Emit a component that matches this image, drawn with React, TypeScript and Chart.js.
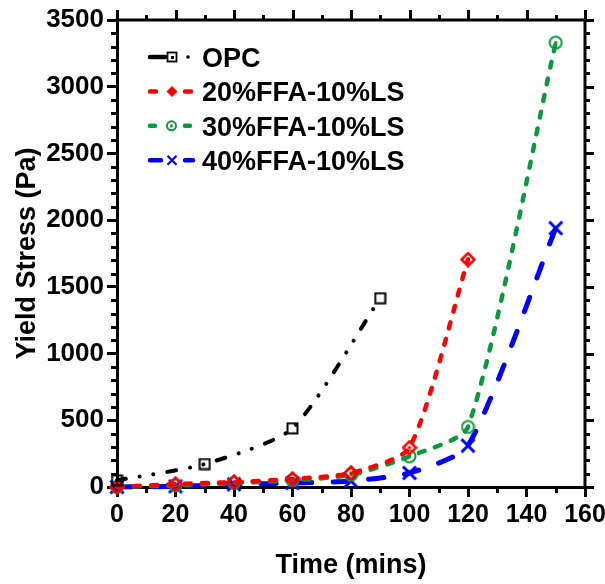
import React, { useEffect, useRef } from "react";
import { Chart, registerables } from "chart.js";

Chart.register(...registerables);

// ---- data ----
const OPC_TIME = [0, 30, 60, 90];
const OPC_STRESS = [50, 172, 440, 1415];
const FFA20_TIME = [0, 20, 40, 60, 80, 100, 120];
const FFA20_STRESS = [0, 22, 37, 60, 105, 295, 1705];
const FFA_TIME = [0, 20, 40, 60, 80, 100, 120, 150];
const FFA30_STRESS = [0, 12, 30, 50, 90, 230, 450, 3330];
const FFA40_STRESS = [0, 5, 20, 30, 45, 105, 310, 1940];
const SERIES_LABELS = ["OPC", "20%FFA-10%LS", "30%FFA-10%LS", "40%FFA-10%LS"];
const X_TICKS = [0, 20, 40, 60, 80, 100, 120, 140, 160];
const Y_TICKS = [0, 500, 1000, 1500, 2000, 2500, 3000, 3500];
const X_MINOR_STEP = 10;
const Y_MINOR_STEP = 100;
const X_TITLE = "Time (mins)";
const Y_TITLE = "Yield Stress (Pa)";

const FONT = "'Liberation Sans', Arial, Helvetica, sans-serif";
const BLACK = "#000000";
const RED = "#ff0000";
const GREEN = "#0a9a3c";
const BLUE = "#0000ff";

function pts(xs: number[], ys: number[]) {
  return xs.map((x, i) => ({ x, y: ys[i] }));
}

function makeMarker(kind: string, color: string, size: number): HTMLCanvasElement {
  const c = document.createElement("canvas");
  c.width = size;
  c.height = size;
  const g = c.getContext("2d")!;
  const m = size / 2;
  g.strokeStyle = color;
  g.fillStyle = color;
  if (kind === "square") {
    g.lineWidth = 2;
    const h = m - 1.5;
    g.strokeRect(m - h, m - h, 2 * h, 2 * h);
  } else if (kind === "diamond") {
    g.lineWidth = 2.5;
    const h = m - 1.5;
    g.beginPath();
    g.moveTo(m, m - h);
    g.lineTo(m + h, m);
    g.lineTo(m, m + h);
    g.lineTo(m - h, m);
    g.closePath();
    g.stroke();
    g.beginPath();
    g.arc(m, m, 1.8, 0, Math.PI * 2);
    g.fill();
  } else if (kind === "circle") {
    g.lineWidth = 2;
    g.beginPath();
    g.arc(m, m, m - 1.5, 0, Math.PI * 2);
    g.stroke();
    g.beginPath();
    g.arc(m, m, 1.8, 0, Math.PI * 2);
    g.fill();
  } else if (kind === "cross") {
    g.lineWidth = 3;
    const h = m - 1.5;
    g.beginPath();
    g.moveTo(m - h, m - h);
    g.lineTo(m + h, m + h);
    g.moveTo(m + h, m - h);
    g.lineTo(m - h, m + h);
    g.stroke();
  }
  return c;
}

const framePlugin = {
  id: "frameTicks",
  afterDraw(chart: any) {
    const { ctx, chartArea: a, scales } = chart;
    const x = scales.x;
    const y = scales.y;
    ctx.save();
    ctx.strokeStyle = BLACK;
    ctx.lineCap = "butt";
    ctx.lineWidth = 3;
    ctx.beginPath();
    ctx.moveTo(a.left - 1.5, a.top);
    ctx.lineTo(a.right + 1.5, a.top);
    ctx.moveTo(a.right, a.top - 1.5);
    ctx.lineTo(a.right, a.bottom + 1.5);
    ctx.stroke();
    ctx.lineWidth = 3;
    ctx.beginPath();
    for (let v = x.min; v <= x.max + 1e-6; v += X_MINOR_STEP) {
      const px = Math.round(x.getPixelForValue(v)) + 0.5;
      const major = X_TICKS.includes(v);
      if (!major) {
        ctx.moveTo(px, a.bottom);
        ctx.lineTo(px, a.bottom + 6);
      }
      ctx.moveTo(px, a.top);
      ctx.lineTo(px, a.top - (major ? 10 : 5));
    }
    for (let v = y.min; v <= y.max + 1e-6; v += Y_MINOR_STEP) {
      const py = Math.round(y.getPixelForValue(v)) + 0.5;
      const major = Y_TICKS.includes(v);
      if (!major) {
        ctx.moveTo(a.left, py);
        ctx.lineTo(a.left - 6, py);
      }
      ctx.moveTo(a.right, py);
      ctx.lineTo(a.right + (major ? 9 : 5), py);
    }
    ctx.stroke();
    ctx.restore();
  },
};

const legendPlugin = {
  id: "insideLegend",
  afterDraw(chart: any) {
    const { ctx } = chart;
    ctx.save();
    const x0 = 148;
    const xm = 172;
    const x1 = 195;
    const textX = 202;
    const baseY = 67;
    const step = 34.4;
    ctx.font = `bold 27px ${FONT}`;
    ctx.textBaseline = "alphabetic";
    ctx.textAlign = "left";
    SERIES_LABELS.forEach((label, i) => {
      const base = baseY + i * step;
      const cy = base - 10;
      ctx.lineCap = "round";
      if (i === 0) {
        ctx.strokeStyle = BLACK;
        ctx.fillStyle = BLACK;
        ctx.lineWidth = 4.5;
        ctx.beginPath();
        ctx.moveTo(x0 + 2, cy);
        ctx.lineTo(165, cy);
        ctx.stroke();
        ctx.lineWidth = 1.8;
        ctx.strokeRect(xm - 4.5, cy - 4.5, 9, 9);
        ctx.fillRect(xm - 1, cy - 1, 3, 3);
        ctx.beginPath();
        ctx.arc(188, cy, 1.8, 0, Math.PI * 2);
        ctx.fill();
      } else if (i === 1) {
        ctx.strokeStyle = RED;
        ctx.fillStyle = RED;
        ctx.lineWidth = 4.5;
        ctx.beginPath();
        ctx.moveTo(x0 + 2, cy);
        ctx.lineTo(156, cy);
        ctx.moveTo(185, cy);
        ctx.lineTo(191, cy);
        ctx.stroke();
        ctx.beginPath();
        ctx.moveTo(xm, cy - 5.5);
        ctx.lineTo(xm + 5.5, cy);
        ctx.lineTo(xm, cy + 5.5);
        ctx.lineTo(xm - 5.5, cy);
        ctx.closePath();
        ctx.fill();
      } else if (i === 2) {
        ctx.strokeStyle = GREEN;
        ctx.fillStyle = GREEN;
        ctx.lineWidth = 4.5;
        ctx.beginPath();
        ctx.moveTo(x0 + 2, cy);
        ctx.lineTo(155, cy);
        ctx.moveTo(185, cy);
        ctx.lineTo(190, cy);
        ctx.stroke();
        ctx.lineWidth = 2;
        ctx.beginPath();
        ctx.arc(xm - 0.5, cy, 4.5, 0, Math.PI * 2);
        ctx.stroke();
        ctx.beginPath();
        ctx.arc(xm - 0.5, cy, 1.6, 0, Math.PI * 2);
        ctx.fill();
      } else {
        ctx.strokeStyle = BLUE;
        ctx.fillStyle = BLUE;
        ctx.lineWidth = 4.5;
        ctx.beginPath();
        ctx.moveTo(x0 + 2, cy);
        ctx.lineTo(161, cy);
        ctx.moveTo(185, cy);
        ctx.lineTo(x1 - 2, cy);
        ctx.stroke();
        ctx.lineCap = "butt";
        ctx.lineWidth = 2.2;
        ctx.beginPath();
        ctx.moveTo(xm - 4.5, cy - 4.5);
        ctx.lineTo(xm + 4.5, cy + 4.5);
        ctx.moveTo(xm + 4.5, cy - 4.5);
        ctx.lineTo(xm - 4.5, cy + 4.5);
        ctx.stroke();
      }
      ctx.fillStyle = BLACK;
      ctx.fillText(label, textX, base);
    });
    ctx.restore();
  },
};

export default function App() {
  const ref = useRef<HTMLCanvasElement | null>(null);

  useEffect(() => {
    document.body.style.margin = "0";
    const canvas = ref.current!;
    const squareImg = makeMarker("square", BLACK, 13);
    const diamondImg = makeMarker("diamond", RED, 16);
    const circleImg = makeMarker("circle", GREEN, 15);
    const crossImg = makeMarker("cross", BLUE, 16);

    const common = {
      fill: false,
      tension: 0.22,
      borderCapStyle: "round" as const,
      clip: false as const,
      pointBackgroundColor: "transparent",
    };

    const chart = new Chart(canvas, {
      type: "line",
      data: {
        datasets: [
          {
            ...common,
            label: SERIES_LABELS[0],
            data: pts(OPC_TIME, OPC_STRESS),
            borderColor: BLACK,
            borderWidth: 4,
            borderDash: [9, 14, 0.1, 13.7, 0.1, 14],
            pointStyle: squareImg as any,
          },
          {
            ...common,
            label: SERIES_LABELS[1],
            data: pts(FFA20_TIME, FFA20_STRESS),
            borderColor: RED,
            borderWidth: 4.5,
            borderDash: [6, 11],
            pointStyle: diamondImg as any,
          },
          {
            ...common,
            label: SERIES_LABELS[2],
            data: pts(FFA_TIME, FFA30_STRESS),
            borderColor: GREEN,
            borderWidth: 4.5,
            borderDash: [6, 11],
            pointStyle: circleImg as any,
          },
          {
            ...common,
            label: SERIES_LABELS[3],
            data: pts(FFA_TIME, FFA40_STRESS),
            borderColor: BLUE,
            borderWidth: 5,
            borderDash: [15, 21],
            pointStyle: crossImg as any,
          },
        ],
      },
      options: {
        responsive: false,
        animation: false,
        layout: { padding: { top: 20, right: 20, left: 0, bottom: 0 } },
        plugins: {
          legend: { display: false },
          tooltip: { enabled: false },
        },
        scales: {
          x: {
            type: "linear",
            min: 0,
            max: 160,
            afterBuildTicks: (s: any) => {
              s.ticks = X_TICKS.map((v) => ({ value: v }));
            },
            afterFit: (s: any) => {
              s.height = 97;
              s.paddingLeft = 0;
              s.paddingRight = 0;
            },
            ticks: {
              color: BLACK,
              font: { family: FONT, size: 25, weight: "bold" },
              padding: 3,
              maxRotation: 0,
              autoSkip: false,
              callback: (v: any) => String(v),
            },
            grid: {
              display: true,
              drawOnChartArea: false,
              drawTicks: true,
              tickLength: 10,
              lineWidth: 3,
              color: BLACK,
            },
            border: { display: true, width: 3, color: BLACK },
            title: {
              display: true,
              text: X_TITLE,
              color: BLACK,
              font: { family: FONT, size: 27, weight: "bold" },
              padding: { top: 0, bottom: 2 },
            },
          },
          y: {
            type: "linear",
            min: 0,
            max: 3500,
            afterBuildTicks: (s: any) => {
              s.ticks = Y_TICKS.map((v) => ({ value: v }));
            },
            afterFit: (s: any) => {
              s.width = 117;
              s.paddingTop = 0;
              s.paddingBottom = 0;
            },
            ticks: {
              color: BLACK,
              font: { family: FONT, size: 26, weight: "bold" },
              padding: 3,
              autoSkip: false,
              callback: (v: any) => String(v),
            },
            grid: {
              display: true,
              drawOnChartArea: false,
              drawTicks: true,
              tickLength: 10,
              lineWidth: 3,
              color: BLACK,
            },
            border: { display: true, width: 3, color: BLACK },
            title: {
              display: true,
              text: Y_TITLE,
              color: BLACK,
              font: { family: FONT, size: 27, weight: "bold" },
              padding: { top: 11, bottom: 0 },
            },
          },
        },
      },
      plugins: [framePlugin, legendPlugin],
    });
    return () => chart.destroy();
  }, []);

  return (
    <div style={{ width: 605, height: 584 }}>
      <canvas ref={ref} width={605} height={584} style={{ display: "block" }} />
    </div>
  );
}
